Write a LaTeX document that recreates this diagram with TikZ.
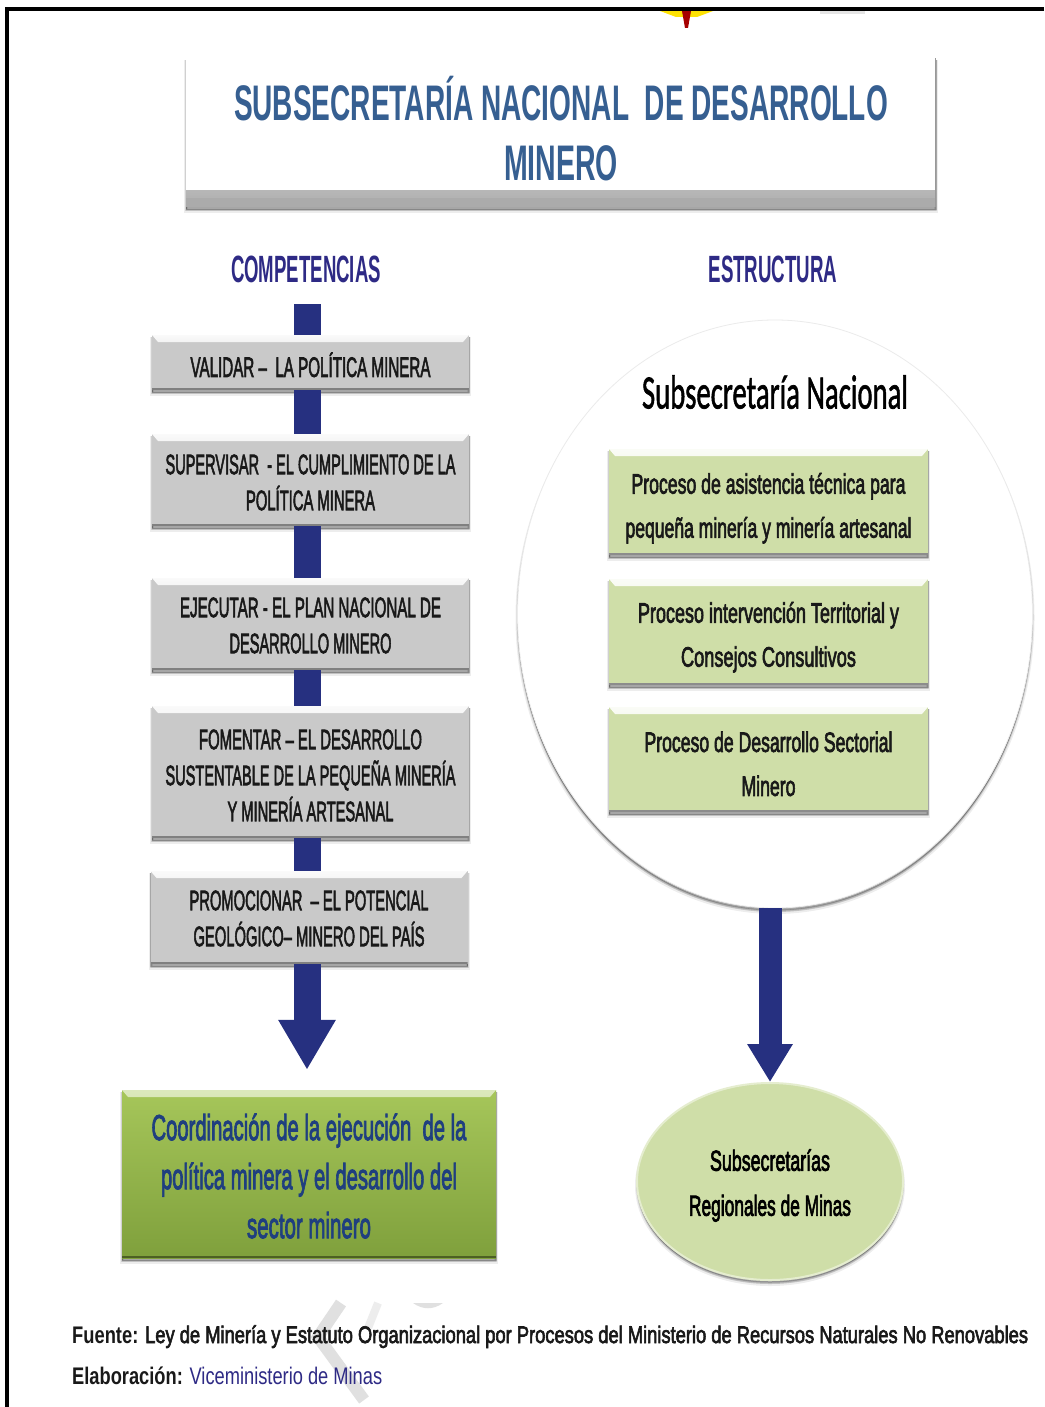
\documentclass[tikz,border=0pt]{standalone}
\usepackage{fontspec}
\usepackage{graphicx}
\setmainfont{Liberation Sans}
\newfontface\semib{Liberation Sans}[FakeBold=3]
\newfontface\calib{Carlito}[FakeBold=1.5]
\usetikzlibrary{arrows.meta,shapes.geometric,calc}
\definecolor{navy}{HTML}{263080}
\definecolor{headblue}{HTML}{2E2A85}
\definecolor{titleblue}{HTML}{365F91}
\definecolor{coordblue}{HTML}{1F3F7F}
\definecolor{palegreen}{HTML}{CFDEA8}
\definecolor{graymain}{HTML}{C9C9C9}
\definecolor{greentop}{HTML}{A6C65A}
\definecolor{greenbot}{HTML}{7FA03C}
\newsavebox\fitbox
\newdimen\fitdim
\newcommand\fw[3]{\sbox\fitbox{\fontsize{#2}{#2}\selectfont #3}\fitdim=\wd\fitbox\pgfmathsetmacro\fitratio{#1/\fitdim}\scalebox{\fitratio}[1]{\usebox\fitbox}}
\newcommand\fs[3]{\fw{#1}{#2}{\semib #3}}
\newcommand\lead[1]{\fontsize{10}{#1}\selectfont}
\newcommand\dn[1]{\rule{0pt}{#1pt}}
\tikzset{
  softshadow/.style={
    preaction={fill=black,draw=black,opacity=.07,line width=4pt,transform canvas={yshift=-4pt}},
    preaction={fill=black,draw=black,opacity=.12,line width=2pt,transform canvas={yshift=-3pt}},
    preaction={fill=black,draw=black,opacity=.2,line width=.5pt,transform canvas={yshift=-2pt}}},
  bevelled/.style 2 args={path picture={
    \shade[top color=#1!10!white,bottom color=#1] (path picture bounding box.north west) -- (path picture bounding box.north east)
       -- ([xshift=-6pt,yshift=-7pt]path picture bounding box.north east) -- ([xshift=6pt,yshift=-7pt]path picture bounding box.north west) -- cycle;
    \fill[#2] ([yshift=2.5pt]path picture bounding box.south west) rectangle (path picture bounding box.south east);}},
  graybox/.style={rectangle,inner sep=0pt,minimum width=317pt,softshadow,fill=graymain,text=black!90,align=center,font=\lead{36pt},bevelled={graymain}{black!50}},
  greenbox/.style={rectangle,inner sep=0pt,minimum width=319pt,softshadow,fill=palegreen,text=black!90,align=center,font=\lead{44pt},bevelled={palegreen}{black!45}},
  bar/.style={draw=navy,line width=27pt},
  thickarrow/.style={draw=navy,line width=27pt,-{Triangle[width=54pt,length=50pt]}},
  thinarrow/.style={draw=navy,line width=23pt,-{Triangle[width=43pt,length=38pt]}},
  heading/.style={text=headblue,inner sep=0pt},
  footline/.style={inner sep=0pt,anchor=base west,text=black!90},
}
\begin{document}
\begin{tikzpicture}[x=1pt,y=-1pt]
\useasboundingbox (0,0) rectangle (1044,1407);
\fill[white] (0,0) rectangle (1044,1407);
% emblem remnant and watermark
\fill[yellow!85!orange] (660,11) -- (713,11) -- (697,17) -- (676,17) -- cycle;
\fill[red!65!black] (682,11) -- (691,11) -- (688,28) -- (685,28) -- cycle;
\fill[black!10] (820,11) rectangle (865,14);
\draw[black!12,line width=12pt] (341,1303) -- (318,1337) -- (364,1400);
\draw[black!7,line width=8pt] (378,1303) -- (368,1328);
\fill[black!12] (413,1303) .. controls (423,1310) and (433,1310) .. (443,1303) -- cycle;
% frame
\draw[black,line width=4pt] (1044,9) -- (7,9) -- (7,1407);
% title
\node[rectangle,inner sep=0pt,minimum width=750pt,minimum height=149pt,softshadow,fill=white,text=titleblue,align=center,font=\lead{60pt},
  path picture={\shade[top color=white,bottom color=black!32] ([yshift=16pt]path picture bounding box.south west) rectangle ([yshift=9pt]path picture bounding box.south east);
    \fill[black!33] ([yshift=9pt]path picture bounding box.south west) rectangle (path picture bounding box.south east);
    \fill[black!40] ([xshift=-1.5pt]path picture bounding box.north east) rectangle (path picture bounding box.south east);}]
  (title) at (561,132.5) {\fw{654}{50}{\bfseries SUBSECRETARÍA NACIONAL\ \ DE DESARROLLO}\\\fw{114}{50}{\bfseries MINERO}\rule[-8pt]{0pt}{8pt}};
\node[heading] (comp) at (306,269) {\fw{150}{38}{\bfseries COMPETENCIAS}};
\node[heading] (estr) at (773,269) {\fw{129}{38}{\bfseries ESTRUCTURA}};
% left column
\coordinate (spinetop) at (307,304);
\node[graybox,minimum height=55pt] (b1) at (310.5,362.5) {\dn{29}\fs{240}{28}{VALIDAR –\ \ LA POLÍTICA MINERA}};
\node[graybox,minimum height=92pt] (b2) at (310.5,480) {\dn{24.5}\fs{290}{28}{SUPERVISAR\ \ - EL CUMPLIMIENTO DE LA}\\\fs{129}{28}{POLÍTICA MINERA}};
\node[graybox,minimum height=92pt] (b3) at (310.5,624) {\dn{22.5}\fs{261}{28}{EJECUTAR - EL PLAN NACIONAL DE}\\\fs{162}{28}{DESARROLLO MINERO}};
\node[graybox,minimum height=132pt] (b4) at (310.5,772) {\dn{26.5}\fs{223}{28}{FOMENTAR – EL DESARROLLO}\\\fs{290}{28}{SUSTENTABLE DE LA PEQUEÑA MINERÍA}\\\fs{166}{28}{Y MINERÍA ARTESANAL}};
\node[graybox,minimum height=93pt] (b5) at (309,917.5) {\dn{21.5}\fs{239}{28}{PROMOCIONAR\ \ – EL POTENCIAL}\\\fs{231}{28}{GEOLÓGICO– MINERO DEL PAÍS}};
\node[rectangle,inner sep=0pt,minimum width=374pt,minimum height=168pt,softshadow,top color=greentop,bottom color=greenbot,text=coordblue,align=center,font=\lead{49pt},
  path picture={\shade[top color=greentop!40!white,bottom color=greentop] (path picture bounding box.north west) -- (path picture bounding box.north east)
       -- ([xshift=-6pt,yshift=-7pt]path picture bounding box.north east) -- ([xshift=6pt,yshift=-7pt]path picture bounding box.north west) -- cycle;
     \fill[greenbot!60!black] ([yshift=2pt]path picture bounding box.south west) rectangle (path picture bounding box.south east);}] (coord) at (309,1174) {\dn{30.5}\fs{315}{36}{Coordinación de la ejecución\ \ de la}\\\fs{296}{36}{política minera y el desarrollo del}\\\fs{124}{36}{sector minero}};
\draw[bar] (spinetop) -- (b1.north -| spinetop);
\draw[bar] (b1.south -| spinetop) -- (b2.north -| spinetop);
\draw[bar] (b2.south -| spinetop) -- (b3.north -| spinetop);
\draw[bar] (b3.south -| spinetop) -- (b4.north -| spinetop);
\draw[bar] (b4.south -| spinetop) -- (b5.north -| spinetop);
\draw[thickarrow,shorten >=20pt] (b5.south -| spinetop) -- (coord.north -| spinetop);
% right column
\node[ellipse,inner sep=0pt,minimum width=515pt,minimum height=588pt,fill=white,draw=black!8,line width=.8pt,softshadow] (circ) at (775,614) {};
\node[inner sep=0pt,text=black] (subnac) at (775,392) {\fw{266}{48}{\calib Subsecretaría Nacional}};
\node[greenbox,minimum height=106pt] (g1) at (768.5,502) {\dn{33}\fs{274}{28}{Proceso de asistencia técnica para}\\\fs{286}{28}{pequeña minería y minería artesanal}};
\node[greenbox,minimum height=106pt] (g2) at (768.5,632) {\dn{31}\fs{261}{28}{Proceso intervención Territorial y}\\\fs{175}{28}{Consejos Consultivos}};
\node[greenbox,minimum height=105pt] (g3) at (768.5,759.5) {\dn{29}\fs{248}{28}{Proceso de Desarrollo Sectorial}\\\fs{54}{28}{Minero}};
\node[ellipse,inner sep=0pt,minimum width=266pt,minimum height=197pt,fill=palegreen,draw=palegreen!55!white,line width=2pt,text=black,align=center,font=\lead{45pt},softshadow] (ell) at (770,1181.5) {\dn{29.5}\fs{120}{29}{Subsecretarías}\\\fs{162}{29}{Regionales de Minas}};
\draw[thinarrow] (circ.south -| ell.north) -- (ell.north);
% footer
\node[footline] (src) at (72,1343) {\fw{956}{24}{{\bfseries Fuente:} {\semib Ley de Minería y Estatuto Organizacional por Procesos del Ministerio de Recursos Naturales No Renovables}}};
\node[footline] (elab) at (72,1384) {\fw{310}{24}{{\bfseries Elaboración:} \textcolor{headblue}{Viceministerio de Minas}}};
\end{tikzpicture}
\end{document}
